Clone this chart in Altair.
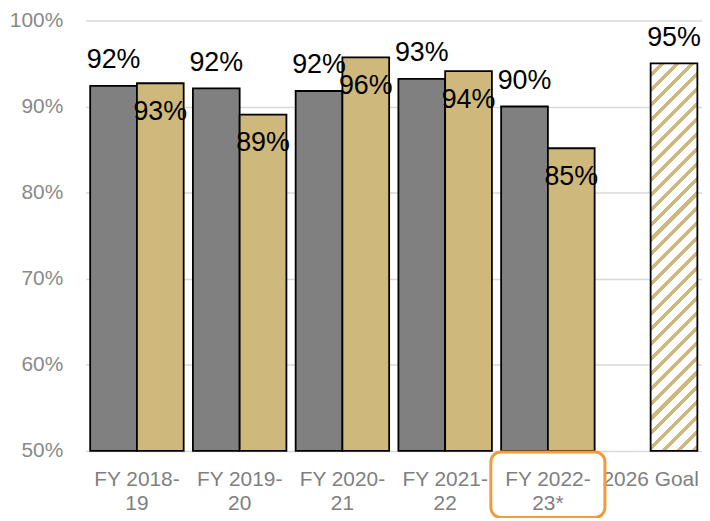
import math
import altair as alt
import pandas as pd

# ---- data ----
categories = ["FY 2018-19", "FY 2019-20", "FY 2020-21", "FY 2021-22", "FY 2022-23*"]
grey_values = [92.4, 92.1, 91.8, 93.2, 90.0]
gold_values = [92.7, 89.05, 95.7, 94.1, 85.15]
goal_category = "2026 Goal"
goal_value = 95.0
highlight_category = "FY 2022-23*"
y_ticks = [50, 60, 70, 80, 90, 100]
series_names = ["A", "B"]

all_categories = categories + [goal_category]

rows = []
for c, g, d in zip(categories, grey_values, gold_values):
    rows.append({"cat": c, "series": "A", "value": g, "label": f"{round(g)}%"})
    rows.append({"cat": c, "series": "B", "value": d, "label": f"{round(d)}%"})
df = pd.DataFrame(rows)
goal_df = pd.DataFrame([{"cat": goal_category, "series": "B", "value": goal_value,
                         "label": f"{round(goal_value)}%"}])
box_df = pd.DataFrame([{"cat": highlight_category}])

# ---- geometry / style ----
W_PLOT, H_PLOT = 620, 433
PAD_IN, PAD_OUT = 0.09, 0.045
GREY = "#808080"
GOLD = "#CEB87C"
FONT = "Liberation Sans"

step = W_PLOT / (len(all_categories) - PAD_IN + 2 * PAD_OUT)
bar_w = step * (1 - PAD_IN) / 2
bar_h = (goal_value - y_ticks[0]) / (y_ticks[-1] - y_ticks[0]) * H_PLOT

# diagonal hatch via hard-stop linear gradient
r = bar_w / bar_h
s = (1 + r) / (1 + r * r)
period = 15.0 / (bar_w + bar_h)
stops = []
k = 0
while k * period < 1:
    t0 = k * period
    t1 = min(1, t0 + 0.66 * period)
    t2 = min(1, (k + 1) * period)
    stops += [{"offset": t0, "color": "white"}, {"offset": t1, "color": "white"},
              {"offset": t1, "color": GOLD}, {"offset": t2, "color": GOLD}]
    k += 1
hatch = {"gradient": "linear", "x1": 0, "y1": 0, "x2": r * s, "y2": s, "stops": stops}

x_enc = alt.X("cat:N", sort=all_categories,
              scale=alt.Scale(domain=all_categories, paddingInner=PAD_IN, paddingOuter=PAD_OUT),
              axis=alt.Axis(title=None, labelAngle=0, ticks=False, domain=False,
                            labelPadding=18, labelLineHeight=24, labelFontSize=21,
                            labelColor="#7f7f7f", labelFont=FONT,
                            labelExpr="datum.label == '2026 Goal' ? datum.label : [slice(datum.label,0,8), slice(datum.label,8)]"))
xo_enc = alt.XOffset("series:N", scale=alt.Scale(domain=series_names, paddingInner=0, paddingOuter=0))
y_enc = alt.Y("value:Q", scale=alt.Scale(domain=[y_ticks[0], y_ticks[-1]], zero=False, nice=False),
              axis=alt.Axis(title=None, values=y_ticks, labelExpr="datum.value + '%'",
                            ticks=False, domain=False, gridColor="#d9d9d9", gridWidth=1.5,
                            labelFontSize=21, labelColor="#898989", labelFont=FONT,
                            labelPadding=23))

bars = alt.Chart(df).mark_bar(stroke="black", strokeWidth=1.8).encode(
    x=x_enc, xOffset=xo_enc, y=y_enc, y2=alt.datum(y_ticks[0]),
    color=alt.Color("series:N", scale=alt.Scale(domain=series_names, range=[GREY, GOLD]), legend=None),
)

goal_bar = alt.Chart(goal_df).mark_bar(stroke="black", strokeWidth=1.8, fill=hatch).encode(
    x=x_enc, xOffset=xo_enc, y=y_enc, y2=alt.datum(y_ticks[0]),
)

text_style = dict(fontSize=27, font=FONT, color="black", baseline="alphabetic")
grey_labels = alt.Chart(df).transform_filter("datum.series == 'A'").mark_text(dy=-18, **text_style).encode(
    x=x_enc, xOffset=xo_enc, y=y_enc, text="label:N")
gold_labels = alt.Chart(df).transform_filter("datum.series == 'B'").mark_text(dy=37, **text_style).encode(
    x=x_enc, xOffset=xo_enc, y=y_enc, text="label:N")
goal_label = alt.Chart(goal_df).mark_text(dy=-18, **text_style).encode(
    x=x_enc, xOffset=xo_enc, y=y_enc, text="label:N")

box = alt.Chart(box_df).mark_bar(width=alt.RelativeBandSize(1.22), cornerRadius=10,
                                 fillOpacity=0, stroke="#F39A3D", strokeWidth=3).encode(
    x=x_enc, y=alt.value(H_PLOT + 1), y2=alt.value(H_PLOT + 67))

chart = alt.layer(bars, goal_bar, grey_labels, gold_labels, goal_label, box).properties(
    width=W_PLOT, height=H_PLOT,
    autosize=alt.AutoSizeParams(type="none"),
    padding={"left": 78, "top": 11, "right": 0, "bottom": 66},
).configure_view(stroke=None)

chart.save("out.html", embed_options={"renderer": "svg", "actions": False})
